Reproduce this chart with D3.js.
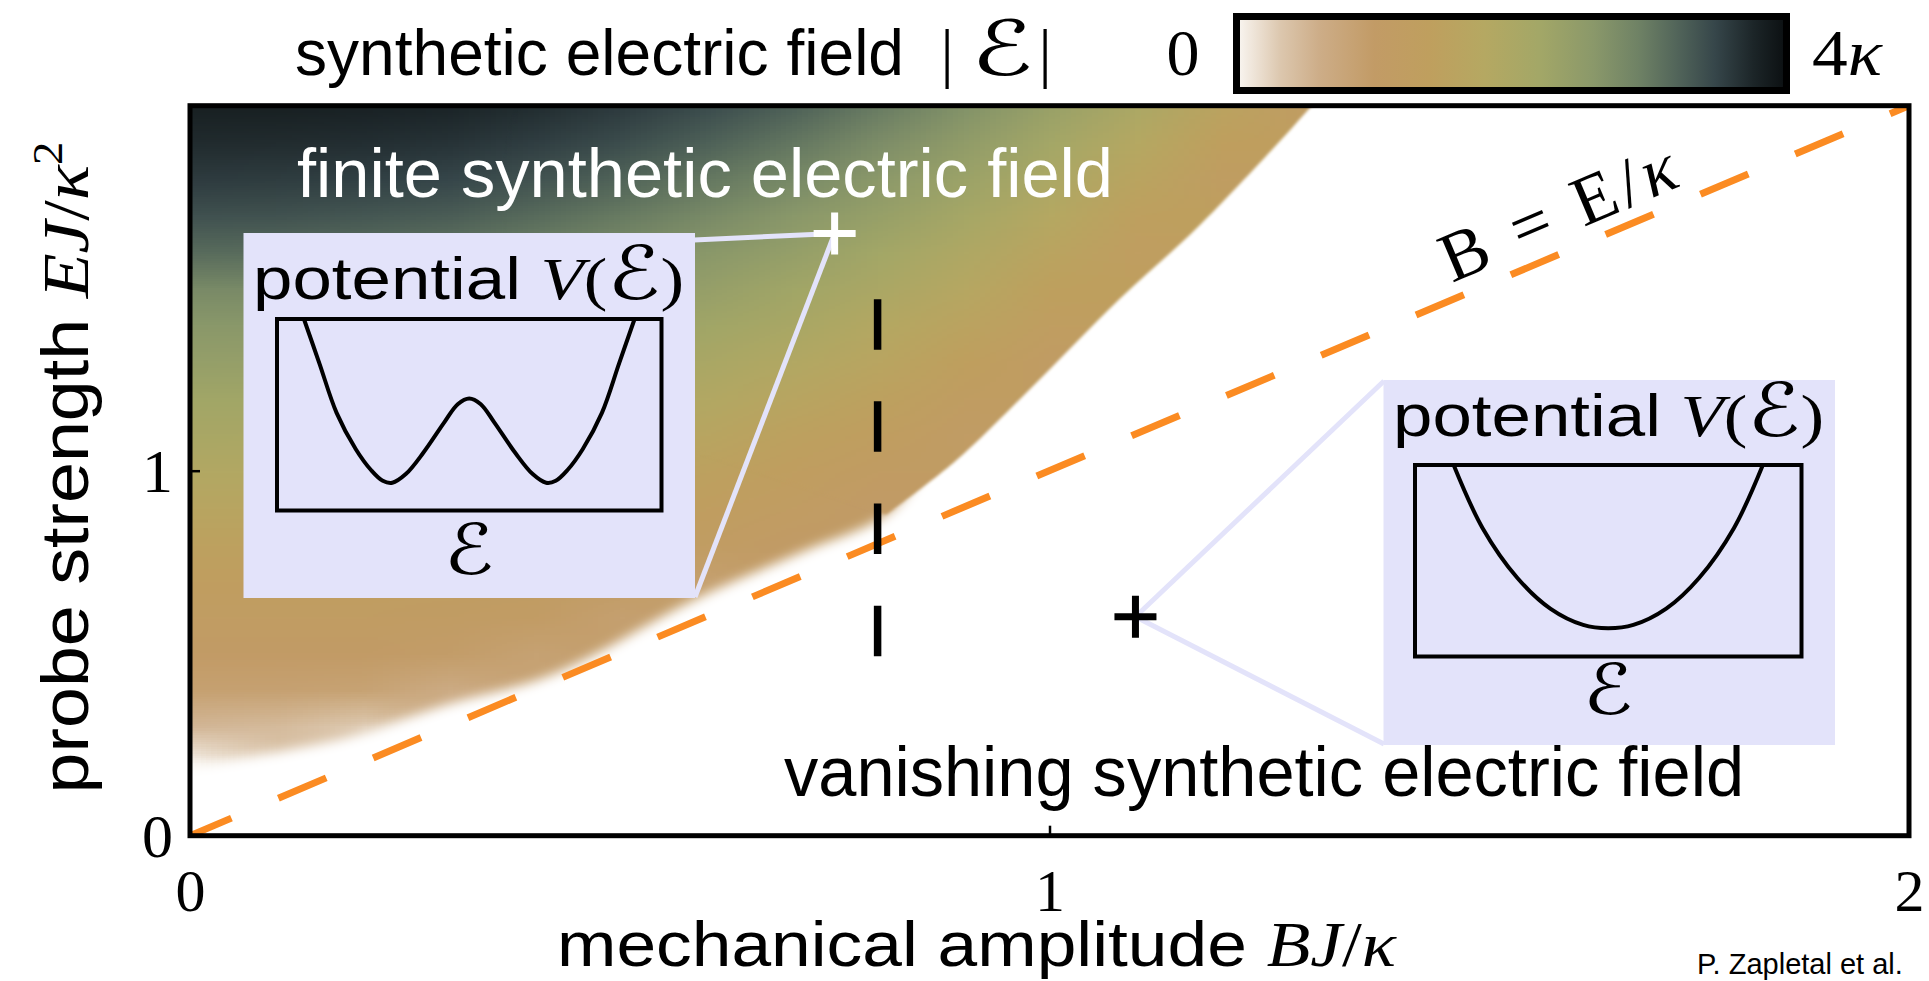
<!DOCTYPE html>
<html><head><meta charset="utf-8">
<script src="https://cdn.jsdelivr.net/npm/d3@7"></script>
<style>html,body{margin:0;padding:0;background:#fff;overflow:hidden}</style>
</head><body>
<svg id="chart" width="1929" height="981" xmlns="http://www.w3.org/2000/svg"></svg>
<script>
// ---------------- data ----------------
const xDomain = [0, 2];                 // mechanical amplitude BJ/κ
const yDomain = [0, 2];                 // probe strength EJ/κ²
const xTicks = [0, 1, 2];
const xTickLabels = ["0", "1", "2"];
const yTicks = [0, 1];
const yTickLabels = ["0", "1"];

// colour bar: |ℰ| from 0 to 4κ
const cbarDomain = [0, 4];
const cbarValues = [0, 0.32, 0.6, 1.0, 1.4, 1.8, 2.2, 2.6, 2.92, 3.2, 3.48, 3.76, 4.0];
const cbarColors = ["#faf7f3", "#dcc7ae", "#cdad88", "#c29b66", "#bf9f5e", "#b5a862",
                    "#a3a767", "#8a986a", "#6f8265", "#52655a", "#36464a", "#1c2528", "#0b0f11"];

// sampled synthetic field |ℰ| (units of κ); columns = gridX, rows = gridY (ascending); 0 = vanishing
const gridX = [0, 0.1, 0.2, 0.3, 0.4, 0.5, 0.6, 0.7, 0.8, 0.9, 1.0, 1.1, 1.2, 1.3, 1.4];
const gridY = [0, 0.1, 0.2, 0.3, 0.4, 0.5, 0.6, 0.7, 0.8, 0.9, 1.0, 1.1, 1.2, 1.3, 1.4, 1.5, 1.6, 1.7, 1.8, 1.9, 2.0];
const field = [
  [0,0,0,0,0,0,0,0,0,0,0,0,0,0,0],
  [0,0,0,0,0,0,0,0,0,0,0,0,0,0,0],
  [0.04,0,0,0,0,0,0,0,0,0,0,0,0,0,0],
  [0.50,0.45,0.30,0,0,0,0,0,0,0,0,0,0,0,0],
  [0.87,0.86,0.83,0.65,0,0,0,0,0,0,0,0,0,0,0],
  [1.02,1.01,1.00,0.96,0.85,0,0,0,0,0,0,0,0,0,0],
  [1.17,1.16,1.15,1.11,1.06,0.88,0,0,0,0,0,0,0,0,0],
  [1.32,1.31,1.30,1.26,1.21,1.12,0.90,0,0,0,0,0,0,0,0],
  [1.50,1.49,1.47,1.44,1.37,1.27,1.16,1.00,0,0,0,0,0,0,0],
  [1.68,1.67,1.65,1.62,1.55,1.45,1.31,1.17,0.99,0,0,0,0,0,0],
  [1.87,1.87,1.84,1.80,1.73,1.63,1.49,1.32,1.14,0,0,0,0,0,0],
  [2.06,2.05,2.03,1.99,1.92,1.82,1.67,1.50,1.29,1.07,0,0,0,0,0],
  [2.24,2.23,2.21,2.18,2.11,2.00,1.87,1.68,1.47,1.22,0,0,0,0,0],
  [2.42,2.41,2.39,2.36,2.29,2.19,2.05,1.87,1.65,1.39,1.12,0,0,0,0],
  [2.60,2.60,2.57,2.54,2.47,2.37,2.23,2.06,1.83,1.57,1.27,0,0,0,0],
  [2.80,2.80,2.77,2.73,2.65,2.55,2.41,2.24,2.02,1.75,1.44,0,0,0,0],
  [3.14,3.13,3.09,3.03,2.91,2.76,2.60,2.42,2.20,1.94,1.62,1.27,0,0,0],
  [3.38,3.37,3.33,3.27,3.14,2.99,2.80,2.60,2.39,2.13,1.80,1.45,0,0,0],
  [3.57,3.56,3.53,3.48,3.36,3.21,3.02,2.81,2.57,2.31,2.00,1.62,1.22,0,0],
  [3.71,3.70,3.68,3.64,3.55,3.42,3.24,3.03,2.76,2.49,2.18,1.81,1.39,0,0],
  [3.82,3.82,3.80,3.77,3.69,3.58,3.43,3.24,2.98,2.68,2.36,2.00,1.57,1.13,0]
];
// edge of the finite-field region (white beyond it)
const boundaryX = [0, 0.07, 0.186, 0.30, 0.42, 0.59, 0.71, 0.81, 0.89, 0.98, 1.08, 1.175, 1.305];
const boundaryY = [0.19, 0.216, 0.271, 0.36, 0.44, 0.65, 0.775, 0.88, 1.025, 1.23, 1.467, 1.673, 2.0];
const sharpFromX = 0.8;   // soft (continuous) edge below this, sharp jump above

// B = E/κ guide line
const guideX = [0, 2];
const guideY = [0, 2];
// vertical black dashed cut
const cutX = [0.8, 0.8];
const cutY = [1.47, 0.49];
// the two probed points
const markerX = [0.75, 1.1];
const markerY = [1.65, 0.6];

// inset potentials V(ℰ): ℰ in [-1,1] across the inset, V in [0,1] bottom→top
const wellLeftE  = [-0.86,-0.78,-0.69,-0.59,-0.51,-0.45,-0.40,-0.33,-0.24,-0.13,-0.06,0,0.06,0.13,0.24,0.33,0.40,0.45,0.51,0.59,0.69,0.78,0.86];
const wellLeftV  = [1.0,0.77,0.51,0.32,0.21,0.155,0.145,0.19,0.30,0.46,0.555,0.585,0.555,0.46,0.30,0.19,0.145,0.155,0.21,0.32,0.51,0.77,1.0];
const wellRightE = [-0.80,-0.65,-0.47,-0.30,-0.13,0,0.13,0.30,0.47,0.65,0.80];
const wellRightV = [1.0,0.67,0.41,0.25,0.165,0.148,0.165,0.25,0.41,0.67,1.0];

// ---------------- drawing ----------------
const W = 1929, H = 981;
const SANS = "'Liberation Sans', Arial, Helvetica, sans-serif";
const SERIF = "'Liberation Serif', 'Times New Roman', 'DejaVu Serif', 'DejaVu Sans', serif";
const ORANGE = "#fb8b22";
const LAV = "#e3e3fa";

const svg = d3.select("#chart");
const defs = svg.append("defs");

const x = d3.scaleLinear().domain(xDomain).range([190, 1909]);
const y = d3.scaleLinear().domain(yDomain).range([835.7, 105.7]);
const color = d3.scaleLinear().domain(cbarValues).range(cbarColors).clamp(true);

defs.append("clipPath").attr("id", "plotClip").append("rect")
  .attr("x", x(0)).attr("y", y(2)).attr("width", x(2) - x(0)).attr("height", y(0) - y(2));

function blur(id, sd) {
  defs.append("filter").attr("id", id).attr("x", "-20%").attr("y", "-20%").attr("width", "140%").attr("height", "140%")
    .append("feGaussianBlur").attr("stdDeviation", sd);
}
blur("softWide", 6);
blur("softNarrow", 1.8);
function maskFrom(id, pts, filt) {
  defs.append("mask").attr("id", id).attr("maskUnits", "userSpaceOnUse")
    .attr("x", 0).attr("y", 0).attr("width", W).attr("height", H)
    .append("path").attr("d", d3.line().curve(d3.curveCatmullRom)(pts) + "Z")
    .attr("fill", "#fff").attr("filter", `url(#${filt})`);
}
const nB = boundaryX.length;
// mask A: whole region with a soft edge (pulled in a little along the sharp part)
const ptsA = boundaryX.map((bx, i) => [x(bx > sharpFromX + 0.05 ? bx - 0.025 : bx), y(boundaryY[i])]);
ptsA.unshift([x(-0.05), y(boundaryY[0])]);
ptsA.push([x(boundaryX[nB - 1] - 0.005), y(2.06)], [x(-0.05), y(2.06)]);
maskFrom("maskSoft", ptsA, "softWide");
// mask B: the part bounded by the sharp jump
const ptsB = boundaryX.map((bx, i) => [bx, boundaryY[i]]).filter(p => p[0] >= sharpFromX).map(p => [x(p[0]), y(p[1])]);
ptsB.push([x(boundaryX[nB - 1] + 0.02), y(2.06)], [x(0.4), y(2.06)], [x(0.4), y(1.2)]);
maskFrom("maskSharp", ptsB, "softNarrow");

// raster of the field: vanishing cells next to the region take neighbouring values (the masks cut the edge)
const nx = gridX.length, ny = gridY.length;
let vals = field.map(r => r.slice());
for (let pass = 0; pass < 3; pass++) {
  const nv = vals.map(r => r.slice());
  for (let j = 0; j < ny; j++) for (let i = 0; i < nx; i++) {
    if (vals[j][i] !== 0) continue;
    const nb = [];
    for (let dj = -1; dj <= 1; dj++) for (let di = -1; di <= 1; di++) {
      const jj = j + dj, ii = i + di;
      if ((dj || di) && jj >= 0 && jj < ny && ii >= 0 && ii < nx && vals[jj][ii] > 0) nb.push(vals[jj][ii]);
    }
    if (nb.length) nv[j][i] = d3.mean(nb);
  }
  vals = nv;
}
const cv = document.createElement("canvas");
cv.width = nx; cv.height = ny;
const ctx = cv.getContext("2d");
const im = ctx.createImageData(nx, ny);
for (let r = 0; r < ny; r++) for (let i = 0; i < nx; i++) {
  const c = d3.rgb(color(vals[ny - 1 - r][i]));
  const k = 4 * (r * nx + i);
  im.data[k] = c.r; im.data[k + 1] = c.g; im.data[k + 2] = c.b; im.data[k + 3] = 255;
}
ctx.putImageData(im, 0, 0);
const href = cv.toDataURL();
const dxg = gridX[1] - gridX[0], dyg = gridY[1] - gridY[0];
const plotG = svg.append("g").attr("clip-path", "url(#plotClip)");
["maskSoft", "maskSharp"].forEach(m => plotG.append("image")
  .attr("href", href)
  .attr("x", x(gridX[0] - dxg / 2)).attr("y", y(gridY[ny - 1] + dyg / 2))
  .attr("width", x(gridX[nx - 1] + dxg / 2) - x(gridX[0] - dxg / 2))
  .attr("height", y(gridY[0] - dyg / 2) - y(gridY[ny - 1] + dyg / 2))
  .attr("preserveAspectRatio", "none")
  .attr("mask", `url(#${m})`));

// B = E/κ line
plotG.append("path")
  .attr("d", d3.line()(guideX.map((v, i) => [x(v), y(guideY[i])])))
  .attr("stroke", ORANGE).attr("stroke-width", 7).attr("fill", "none")
  .attr("stroke-dasharray", "52 51").attr("stroke-dashoffset", 7);

// vertical black dashed cut
plotG.append("path")
  .attr("d", d3.line()(cutX.map((v, i) => [x(v), y(cutY[i])])))
  .attr("stroke", "#000").attr("stroke-width", 7.5).attr("fill", "none")
  .attr("stroke-dasharray", "50.5 51.7");

// helper for mixed-font text
function rich(parent, px, py, parts, opt = {}) {
  const t = parent.append("text").attr("x", px).attr("y", py)
    .attr("font-size", opt.size || 60).attr("fill", opt.fill || "#000")
    .attr("text-anchor", opt.anchor || "start");
  if (opt.transform) t.attr("transform", opt.transform);
  parts.forEach(p => {
    const s = t.append("tspan").text(p.t).attr("font-family", p.f || SANS);
    if (p.i) s.attr("font-style", "italic");
    if (p.s) s.attr("font-size", p.s);
    if (p.dy) s.attr("dy", p.dy);
  });
  if (opt.len) t.attr("textLength", opt.len).attr("lengthAdjust", opt.adjust || "spacingAndGlyphs");
  return t;
}

// region labels
rich(svg, 297, 197, [{t: "finite synthetic electric field"}], {size: 68, fill: "#fff", len: 816});
rich(svg, 784, 796, [{t: "vanishing synthetic electric field"}], {size: 70, len: 960});

// B = E/κ label along the line
const ang = Math.atan2(y(0) - y(2), x(2) - x(0)) * 180 / Math.PI;
rich(svg, 0, 0, [{t: "B = E/", f: SERIF}, {t: "κ", f: SERIF, i: true}],
  {size: 70, len: 250, adjust: "spacing", transform: `translate(1452,283) rotate(${-ang})`});

// insets
function inset(box, inner, textBase, labelBase, E, V, mx, my, corners) {
  corners.forEach(c => svg.append("line")
    .attr("x1", x(mx)).attr("y1", y(my)).attr("x2", c[0]).attr("y2", c[1])
    .attr("stroke", LAV).attr("stroke-width", 5));
  svg.append("rect").attr("x", box[0]).attr("y", box[1]).attr("width", box[2]).attr("height", box[3]).attr("fill", LAV);
  rich(svg, box[0] + 9.5, box[1] + textBase,
    [{t: "potential "}, {t: "V", f: SERIF, i: true}, {t: "(", f: SERIF}, {t: "ℰ", f: SERIF, s: 74}, {t: ")", f: SERIF}],
    {size: 60, len: 431});
  const ex = d3.scaleLinear().domain([-1, 1]).range([inner[0], inner[0] + inner[2]]);
  const ev = d3.scaleLinear().domain([0, 1]).range([inner[1] + inner[3], inner[1]]);
  svg.append("path")
    .attr("d", d3.line().curve(d3.curveCatmullRom)(E.map((e, i) => [ex(e), ev(V[i])])))
    .attr("fill", "none").attr("stroke", "#000").attr("stroke-width", 4);
  svg.append("rect").attr("x", inner[0]).attr("y", inner[1]).attr("width", inner[2]).attr("height", inner[3])
    .attr("fill", "none").attr("stroke", "#000").attr("stroke-width", 4);
  const lx = inner[0] + inner[2] / 2;
  rich(svg, lx - 25, box[1] + labelBase, [{t: "ℰ", f: SERIF}], {size: 70, len: 50});
}
inset([243.5, 233, 451.5, 365], [277, 319, 384.5, 191.5], 66, 341, wellLeftE, wellLeftV,
      markerX[0], markerY[0], [[694, 240], [695, 597]]);
inset([1383.5, 380, 451.5, 365], [1415, 465, 386.5, 191.5], 56, 334, wellRightE, wellRightV,
      markerX[1], markerY[1], [[1384, 381], [1384, 744]]);

// markers (plus signs)
const plusColors = ["#fff", "#000"];
markerX.forEach((mx, i) => {
  const cx = x(mx), cy = y(markerY[i]), h = 21;
  svg.append("path").attr("d", `M${cx - h},${cy}H${cx + h}M${cx},${cy - h}V${cy + h}`)
    .attr("stroke", plusColors[i]).attr("stroke-width", 7).attr("fill", "none");
});

// frame
svg.append("rect").attr("x", x(0)).attr("y", y(2)).attr("width", x(2) - x(0)).attr("height", y(0) - y(2))
  .attr("fill", "none").attr("stroke", "#000").attr("stroke-width", 5);

// axes ticks (inward) + labels
const xAxis = d3.axisBottom(x).tickValues(xTicks).tickSize(-10).tickFormat((d, i) => xTickLabels[i]);
const gx = svg.append("g").attr("transform", `translate(0,${y(0)})`).call(xAxis);
gx.select(".domain").remove();
gx.selectAll(".tick line").attr("stroke", "#000").attr("stroke-width", 2.5);
gx.selectAll(".tick text").attr("font-family", SERIF).attr("font-size", 60).attr("fill", "#000")
  .attr("y", 0).attr("dy", 0).attr("transform", "translate(0,75)");

const yAxis = d3.axisLeft(y).tickValues(yTicks).tickSize(-10).tickFormat((d, i) => yTickLabels[i]);
const gy = svg.append("g").attr("transform", `translate(${x(0)},0)`).call(yAxis);
gy.select(".domain").remove();
gy.selectAll(".tick line").attr("stroke", "#000").attr("stroke-width", 2.5);
gy.selectAll(".tick text").attr("font-family", SERIF).attr("font-size", 62).attr("fill", "#000")
  .attr("x", -17).attr("dy", "0.34em").attr("text-anchor", "end");

// axis titles
rich(svg, 557, 966, [{t: "mechanical amplitude "}, {t: "BJ", f: SERIF, i: true}, {t: "/", f: SERIF}, {t: "κ", f: SERIF, i: true}],
  {size: 63, len: 839});
rich(svg, 0, 0, [{t: "probe strength "}, {t: "EJ", f: SERIF, i: true}, {t: "/", f: SERIF}, {t: "κ", f: SERIF, i: true},
  {t: "2", f: SERIF, s: 42, dy: -26}], {size: 66, anchor: "middle", len: 652, transform: "translate(88,467.5) rotate(-90)"});

// colour bar
const grad = defs.append("linearGradient").attr("id", "cbar").attr("x1", "0%").attr("x2", "100%").attr("y1", "0%").attr("y2", "0%");
cbarValues.forEach((v, i) => grad.append("stop").attr("offset", (v - cbarDomain[0]) / (cbarDomain[1] - cbarDomain[0])).attr("stop-color", cbarColors[i]));
svg.append("rect").attr("x", 1236.5).attr("y", 16.5).attr("width", 550).attr("height", 74)
  .attr("fill", "url(#cbar)").attr("stroke", "#000").attr("stroke-width", 7);
rich(svg, 295, 75, [{t: "synthetic electric field"}], {size: 64, len: 609});
rich(svg, 947, 75, [{t: "|", f: SERIF}], {size: 66, anchor: "middle"});
rich(svg, 971, 75, [{t: "ℰ", f: SERIF}], {size: 76, len: 62});
rich(svg, 1045, 75, [{t: "|", f: SERIF}], {size: 66, anchor: "middle"});
rich(svg, 1183, 75, [{t: "0", f: SERIF}], {size: 66, anchor: "middle"});
rich(svg, 1812, 75, [{t: "4", f: SERIF}, {t: "κ", f: SERIF, i: true}], {size: 66, len: 70});

// credit
rich(svg, 1697, 974, [{t: "P. Zapletal et al."}], {size: 29});
</script>
</body></html>
